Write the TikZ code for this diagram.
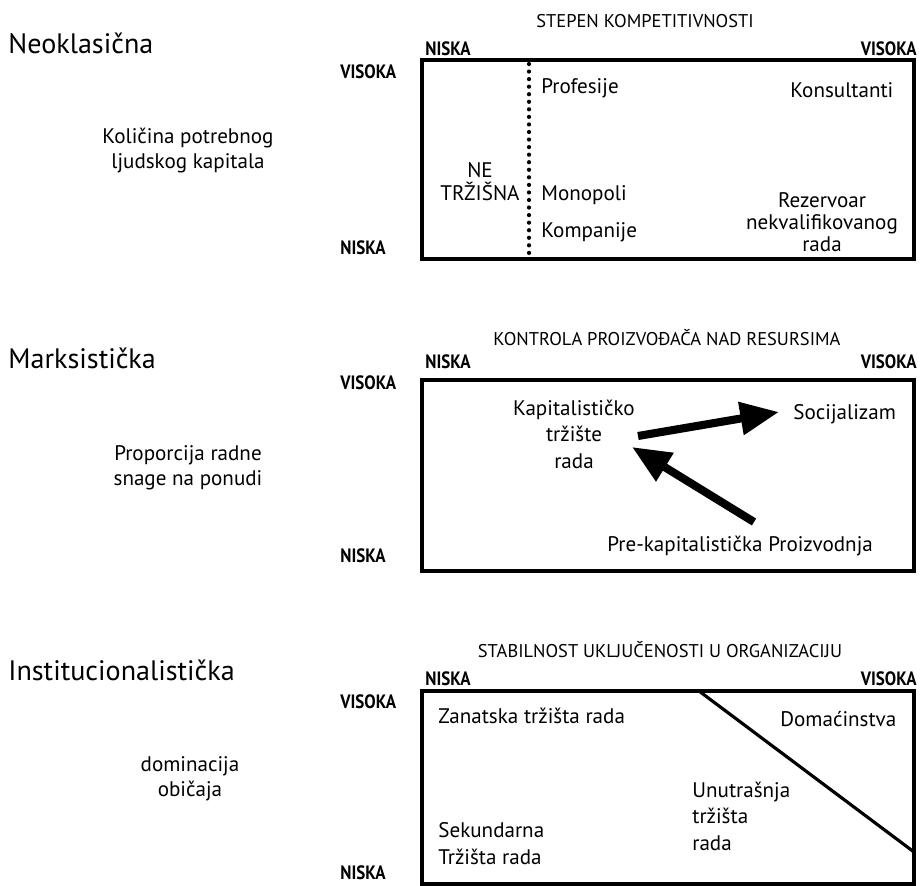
\documentclass[tikz,border=0pt]{standalone}
\usepackage{fontspec}
\setmainfont{PT Sans}
\newfontfamily\uzak[FakeStretch=0.88]{PT Sans}
\usetikzlibrary{arrows.meta}
\tikzset{
  naslov/.style={anchor=base west, inner sep=0pt, font=\fontsize{16}{19}\selectfont},
  opis/.style={anchor=base, inner sep=0pt, align=center, font=\fontsize{12}{14}\selectfont},
  osa/.style={anchor=base, inner sep=0pt, font=\fontsize{10.5}{12}\selectfont},
  nivo/.style={inner sep=0pt, font=\fontsize{11}{12}\selectfont\uzak\bfseries},
  polje/.style={inner sep=0pt, font=\fontsize{12}{15}\selectfont},
  okvir/.style={line width=2.3pt},
  strelica/.style={line width=4.6pt, -{Triangle[length=22pt,width=18pt]}}
}
\begin{document}
\begin{tikzpicture}[x=0.02cm,y=-0.02cm]
\useasboundingbox (0,0) rectangle (920,886);

% neoklasicna
\node[naslov] (neo) at (8,53) {Neoklasična};
\node[opis] (neoy) at (188,168) {Količina potrebnog\\ljudskog kapitala};
\node[osa] (neox) at (645,27) {STEPEN KOMPETITIVNOSTI};
\node[nivo, anchor=base west] (neoxl) at (425,55) {NISKA};
\node[nivo, anchor=base east] (neoxh) at (917,55) {VISOKA};
\node[nivo, anchor=base west] (neoyh) at (340,78) {VISOKA};
\node[nivo, anchor=base west] (neoyl) at (340,254) {NISKA};
\draw[okvir] (422,60) rectangle (914,259);
\draw[line width=2.4pt, line cap=round, dash pattern=on 0pt off 4.3pt] (529,64) -- (529,256);
\node[polje, anchor=base west] (prof) at (541,93) {Profesije};
\node[polje, anchor=base west] (kons) at (790,97) {Konsultanti};
\node[polje, anchor=base, align=center, font=\fontsize{12}{13}\selectfont] (net) at (480,200) {NE\\TRŽIŠNA};
\node[polje, anchor=base west] (mono) at (541,200) {Monopoli};
\node[polje, anchor=base west] (komp) at (541,237) {Kompanije};
\node[polje, anchor=base, align=center, font=\fontsize{12}{12.5}\selectfont] (rez) at (822,251) {Rezervoar\\nekvalifikovanog\\rada};

% marksisticka
\node[naslov] (mar) at (8,368) {Marksistička};
\node[opis] (mary) at (188,485) {Proporcija radne\\snage na ponudi};
\node[osa] (marx) at (667,345) {KONTROLA PROIZVOĐAČA NAD RESURSIMA};
\node[nivo, anchor=base west] (marxl) at (425,368) {NISKA};
\node[nivo, anchor=base east] (marxh) at (917,368) {VISOKA};
\node[nivo, anchor=base west] (maryh) at (340,389) {VISOKA};
\node[nivo, anchor=base west] (maryl) at (340,562) {NISKA};
\draw[okvir] (422,380) rectangle (914,571);
\node[polje, anchor=base, align=center] (kap) at (574,468) {Kapitalističko\\tržište\\rada};
\node[polje, anchor=base west] (soc) at (793,419) {Socijalizam};
\node[polje, anchor=base west] (pre) at (607,551) {Pre-kapitalistička Proizvodnja};
\coordinate (kapizlaz) at (638,436);
\coordinate (soculaz) at (779,412);
\coordinate (preizlaz) at (754,522);
\coordinate (kapulaz) at (632,447);
\draw[strelica] (kapizlaz) -- (soculaz);
\draw[strelica] (preizlaz) -- (kapulaz);

% institucionalisticka
\node[naslov] (ins) at (8,680) {Institucionalistička};
\node[opis] (insy) at (190,796) {dominacija\\običaja};
\node[osa] (insx) at (660,657) {STABILNOST UKLJUČENOSTI U ORGANIZACIJU};
\node[nivo, anchor=base west] (insxl) at (425,685) {NISKA};
\node[nivo, anchor=base east] (insxh) at (917,685) {VISOKA};
\node[nivo, anchor=base west] (insyh) at (340,708) {VISOKA};
\node[nivo, anchor=base west] (insyl) at (340,879) {NISKA};
\draw[okvir] (422,691) rectangle (914,884);
\draw[line width=1.8pt] (699,691) -- (914,852);
\node[polje, anchor=base west] (zan) at (438,723) {Zanatska tržišta rada};
\node[polje, anchor=base west] (dom) at (780,726) {Domaćinstva};
\node[polje, anchor=base west, align=left] (unu) at (692,850) {Unutrašnja\\tržišta\\rada};
\node[polje, anchor=base west, align=left] (sek) at (438,864) {Sekundarna\\Tržišta rada};
\end{tikzpicture}
\end{document}
